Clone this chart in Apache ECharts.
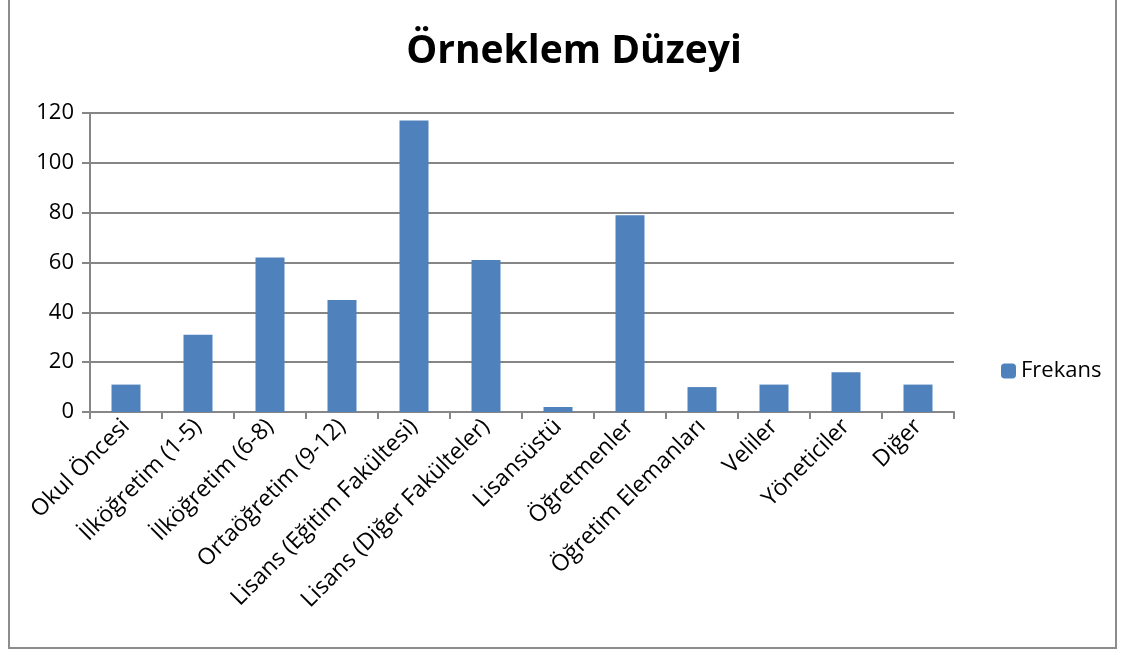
<!DOCTYPE html>
<html>
<head>
<meta charset="utf-8">
<script src="https://cdn.jsdelivr.net/npm/echarts@6/dist/echarts.min.js"></script>
<style>
  html, body { margin: 0; padding: 0; background: #fff; }
  #frame { position: absolute; left: 8px; top: -2px; width: 1109px; height: 651px; border: 2px solid #8c8c8c; box-sizing: border-box; }
  #chart { position: absolute; left: 0; top: 0; width: 1126px; height: 655px; }
</style>
</head>
<body>
<div id="frame"></div>
<div id="chart"></div>
<script>
var categories = [
    'Okul Öncesi',
    'İlköğretim (1-5)',
    'İlköğretim (6-8)',
    'Ortaöğretim (9-12)',
    'Lisans (Eğitim Fakültesi)',
    'Lisans (Diğer Fakülteler)',
    'Lisansüstü',
    'Öğretmenler',
    'Öğretim Elemanları',
    'Veliler',
    'Yöneticiler',
    'Diğer'
];
var frekans = [11, 31, 62, 45, 117, 61, 2, 79, 10, 11, 16, 11];
var seriesName = 'Frekans';
var chartTitle = 'Örneklem Düzeyi';

var chart = echarts.init(document.getElementById('chart'));
var font = '"Open Sans", "Noto Sans", sans-serif';
var option = {
    animation: false,
    title: {
        text: chartTitle,
        left: 569,
        top: 27,
        textAlign: 'center',
        textStyle: { fontFamily: font, fontSize: 39, fontWeight: 'bold', color: '#000' }
    },
    legend: {
        data: [seriesName],
        orient: 'vertical',
        left: 996,
        top: 355,
        itemWidth: 15,
        itemHeight: 15,
        itemGap: 5,
        textStyle: { fontFamily: font, fontSize: 22, color: '#000' }
    },
    grid: { left: 90, right: 172, top: 113, bottom: 243 },
    xAxis: {
        type: 'category',
        data: categories,
        axisLine: { lineStyle: { color: '#868686', width: 2 } },
        axisTick: { show: true, length: 7, lineStyle: { color: '#868686', width: 2 } },
        axisLabel: { rotate: 45, interval: 0, margin: 11, fontFamily: font, fontSize: 23, color: '#000' }
    },
    yAxis: {
        type: 'value',
        min: 0,
        max: 120,
        interval: 20,
        axisLine: { show: true, lineStyle: { color: '#868686', width: 2 } },
        axisTick: { show: true, length: 8, lineStyle: { color: '#868686', width: 2 } },
        axisLabel: { margin: 16, fontFamily: font, fontSize: 22, color: '#000' },
        splitLine: { lineStyle: { color: '#868686', width: 2 } }
    },
    series: [{
        name: seriesName,
        type: 'bar',
        data: frekans,
        barWidth: 29,
        itemStyle: { color: '#4F81BD' }
    }]
};
chart.setOption(option);
</script>
</body>
</html>
